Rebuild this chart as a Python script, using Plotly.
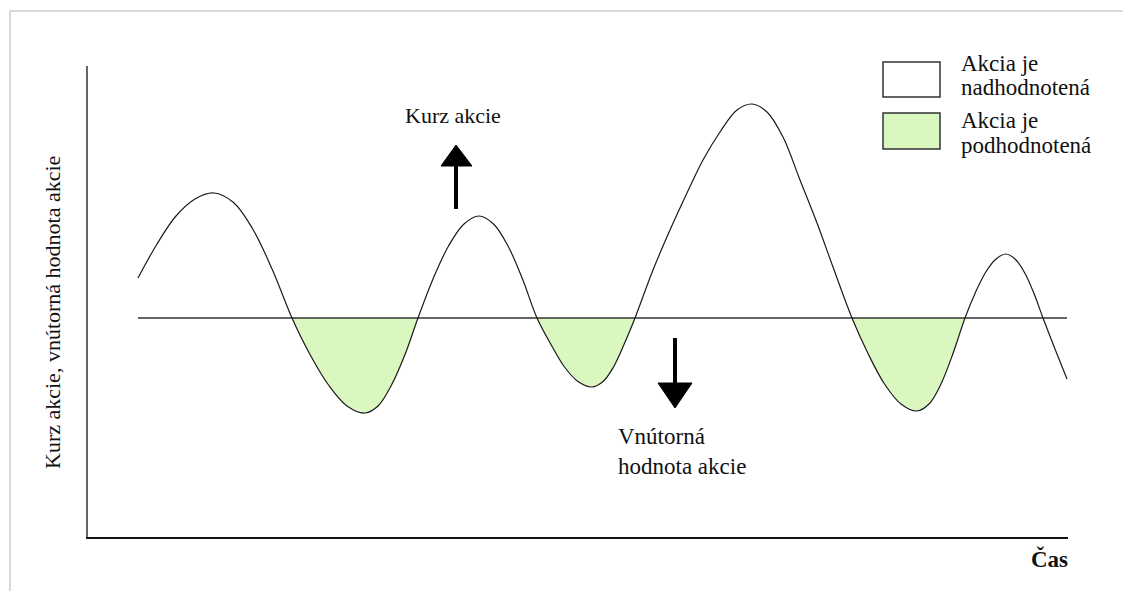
import plotly.graph_objects as go

# ---------------- data ----------------
time = [5.0, 6.9, 8.8, 10.7, 12.6, 14.55, 16.5, 18.45, 20.4, 22.2, 24.05, 25.9, 27.7,
        29.0, 30.35, 31.7, 33.0, 34.5, 36.05, 37.6, 39.1, 40.55, 42.0, 43.45, 44.9,
        46.3, 47.65, 49.0, 50.4, 51.5, 52.55, 53.6, 54.7, 56.5, 58.2, 59.9, 61.5,
        63.2, 64.9, 66.4, 67.9, 69.5, 71.2, 72.9, 74.5, 76.4, 78.0, 79.65, 81.3,
        82.9, 84.1, 85.3, 86.5, 87.7, 88.7, 89.75, 90.8, 91.8, 92.7, 93.65, 94.6,
        95.5, 96.7, 97.9]
stock_price = [51.8, 58.6, 64.2, 67.6, 68.8, 66.9, 61.5, 53.4, 43.8, 36.5, 30.4, 26.2, 24.8,
               26.2, 30.4, 36.5, 43.8, 51.6, 58.2, 62.6, 64.2, 62.6, 58.2, 51.6, 43.8,
               38.5, 34.0, 31.1, 30.0, 31.1, 34.0, 38.5, 43.8, 53.4, 61.4, 68.8, 75.4,
               81.0, 85.4, 86.6, 85.0, 80.0, 71.4, 62.8, 54.0, 43.8, 36.7, 30.6, 26.6,
               25.2, 26.6, 30.6, 36.7, 43.8, 48.7, 52.9, 55.6, 56.6, 55.6, 52.9, 48.7,
               43.8, 37.6, 31.6]
intrinsic_value = 43.8

x_range = [0, 98]
y_range = [0, 94.2]

label_price = "Kurz akcie"
label_intrinsic = "Vnútorná<br>hodnota akcie"
label_y = "Kurz akcie, vnútorná hodnota akcie"
label_x = "Čas"
legend_over = ["Akcia je", "nadhodnotená"]
legend_under = ["Akcia je", "podhodnotená"]

GREEN = "#d9f7bf"
FONT = "Liberation Serif"

# ---------------- layout helpers (window pixel layout -> paper) ----------------
W, H = 1131, 591          # browser window
OFF = 8                   # default page body margin
FW, FH = W - OFF, H - OFF  # figure size
L, R, T, B = 88, 1068, 66, 537   # plot area in window pixels


def px(x):
    return (x - L) / (R - L)


def py(y):
    return (B - y) / (B - T)


fig = go.Figure()

# green areas where the price is below the intrinsic value (closed troughs only)
n = len(time)
i = 0
while i < n:
    if stock_price[i] < intrinsic_value:
        start = i - 1
        j = i
        while j < n and stock_price[j] < intrinsic_value:
            j += 1
        if start >= 0 and j < n:
            xs = time[start:j + 1]
            ys = stock_price[start:j + 1]
            fig.add_trace(go.Scatter(x=xs, y=ys, mode="lines", fill="toself",
                                     fillcolor=GREEN, line=dict(width=0),
                                     hoverinfo="skip", showlegend=False))
        i = j
    else:
        i += 1

# intrinsic value line
fig.add_trace(go.Scatter(x=[time[0], time[-1]], y=[intrinsic_value, intrinsic_value],
                         mode="lines", line=dict(color="#333333", width=1.5),
                         showlegend=False, hoverinfo="skip"))

# stock price curve
fig.add_trace(go.Scatter(x=time, y=stock_price, mode="lines",
                         line=dict(color="#1a1a1a", width=1.2, shape="spline", smoothing=1),
                         showlegend=False, hoverinfo="skip"))

shapes = []
# outer frame (top and left)
shapes.append(dict(type="line", xref="paper", yref="paper", x0=px(10), x1=px(W + 5),
                   y0=py(11), y1=py(11), line=dict(color="#cccccc", width=1.5)))
shapes.append(dict(type="line", xref="paper", yref="paper", x0=px(10), x1=px(10),
                   y0=py(11), y1=py(H + 5), line=dict(color="#cccccc", width=1.5)))
# legend boxes
shapes.append(dict(type="rect", xref="paper", yref="paper", x0=px(883), x1=px(940),
                   y0=py(97), y1=py(62), fillcolor="white", line=dict(color="#333333", width=1.5)))
shapes.append(dict(type="rect", xref="paper", yref="paper", x0=px(883), x1=px(940),
                   y0=py(149), y1=py(113), fillcolor=GREEN, line=dict(color="#333333", width=1.5)))
# up arrow
shapes.append(dict(type="line", xref="paper", yref="paper", x0=px(456), x1=px(456),
                   y0=py(209), y1=py(163), line=dict(color="black", width=4)))
shapes.append(dict(type="path", xref="paper", yref="paper",
                   path=f"M {px(441)} {py(166)} L {px(456)} {py(145)} L {px(472)} {py(166)} Z",
                   fillcolor="black", line=dict(color="black", width=1)))
# down arrow
shapes.append(dict(type="line", xref="paper", yref="paper", x0=px(675), x1=px(675),
                   y0=py(338), y1=py(386), line=dict(color="black", width=4)))
shapes.append(dict(type="path", xref="paper", yref="paper",
                   path=f"M {px(658)} {py(383)} L {px(675)} {py(408)} L {px(692)} {py(383)} Z",
                   fillcolor="black", line=dict(color="black", width=1)))

annotations = []


def txt(text, x, y, size=23, xanchor="center", bold=False, angle=0, align="left"):
    annotations.append(dict(text=f"<b>{text}</b>" if bold else text, xref="paper", yref="paper",
                            x=px(x), y=py(y), xanchor=xanchor, yanchor="middle",
                            showarrow=False, textangle=angle, align=align,
                            font=dict(family=FONT, size=size, color="#111111")))


txt(label_price, 453, 116, size=22)
txt(label_intrinsic, 616, 451, xanchor="left")
txt(label_y, 52, 313, size=22, angle=-90)
txt(label_x, 1049, 559, size=23, bold=True)
txt(legend_over[0], 959, 63, xanchor="left")
txt(legend_over[1], 959, 87, xanchor="left")
txt(legend_under[0], 959, 121, xanchor="left")
txt(legend_under[1], 959, 145, xanchor="left")

fig.update_layout(
    width=FW, height=FH, autosize=False,
    margin=dict(l=L - OFF, r=FW - (R - OFF), t=T - OFF, b=FH - (B - OFF), pad=0),
    paper_bgcolor="white", plot_bgcolor="white",
    shapes=shapes, annotations=annotations, showlegend=False,
    xaxis=dict(range=x_range, showline=True, linecolor="#111111", linewidth=2,
               showgrid=False, zeroline=False, showticklabels=False, ticks=""),
    yaxis=dict(range=y_range, showline=True, linecolor="#666666", linewidth=2,
               showgrid=False, zeroline=False, showticklabels=False, ticks=""),
)

fig.write_html("out.html")
